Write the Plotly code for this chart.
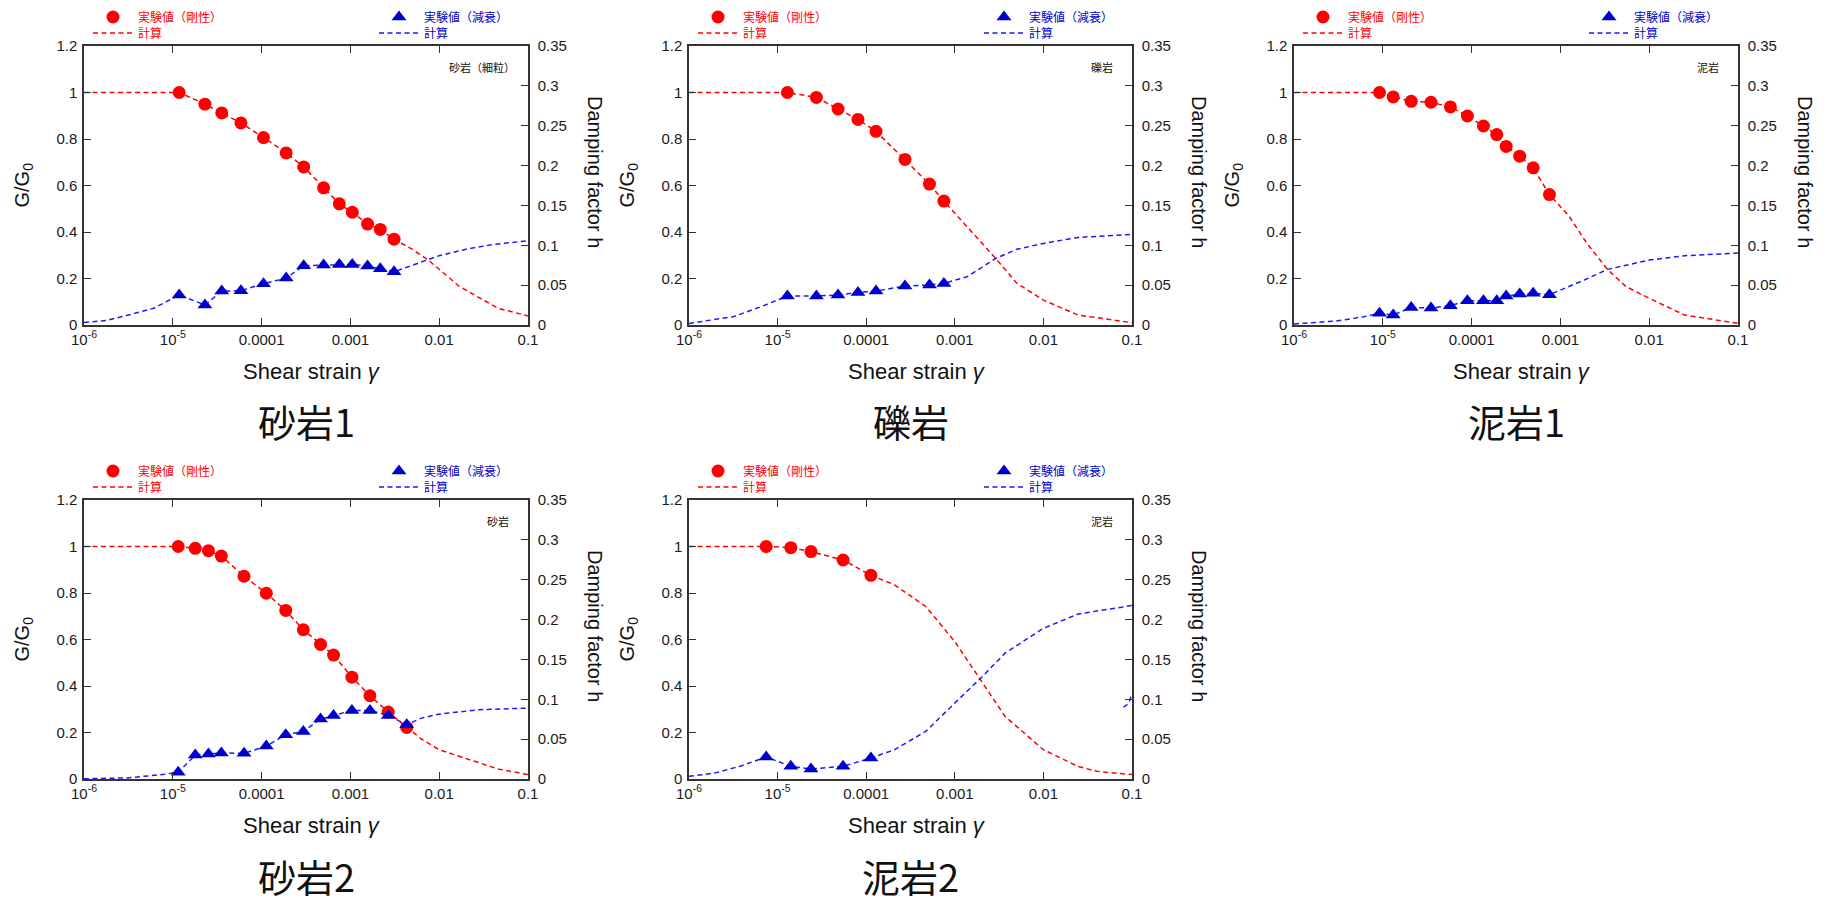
import plotly.graph_objects as go

W, H = 1827, 901
OFF = 8  # the page body margin that the browser adds around the figure

# ---------------- data ----------------
panel_titles = ["砂岩1", "礫岩", "泥岩1", "砂岩2", "泥岩2"]
rock_labels = ["砂岩（細粒）", "礫岩", "泥岩", "砂岩", "泥岩"]

x_tickvals = [1e-6, 1e-5, 1e-4, 1e-3, 1e-2, 1e-1]
x_ticktext = ["10<sup>-6</sup>", "10<sup>-5</sup>", "0.0001", "0.001", "0.01", "0.1"]
g_tickvals = [0, 0.2, 0.4, 0.6, 0.8, 1.0, 1.2]
g_ticktext = ["0", "0.2", "0.4", "0.6", "0.8", "1", "1.2"]
h_tickvals = [0, 0.05, 0.1, 0.15, 0.2, 0.25, 0.3, 0.35]
h_ticktext = ["0", "0.05", "0.1", "0.15", "0.2", "0.25", "0.3", "0.35"]

# 砂岩1
strain_1 = [1.18e-5, 2.3e-5, 3.56e-5, 5.85e-5, 1.05e-4, 1.89e-4, 2.98e-4, 4.99e-4, 7.5e-4, 1.05e-3, 1.56e-3, 2.17e-3, 3.1e-3]
G_1 = [1.0, 0.95, 0.912, 0.869, 0.806, 0.74, 0.68, 0.59, 0.521, 0.485, 0.434, 0.411, 0.369]
h_1 = [0.0376, 0.0251, 0.0426, 0.043, 0.0518, 0.0589, 0.0743, 0.0752, 0.076, 0.076, 0.0739, 0.0706, 0.0668]
calcG_head_x_1 = [1e-6]
calcG_head_1 = [1.0]
calcG_tail_x_1 = [5e-3, 7.4e-3, 0.017, 0.046, 0.1]
calcG_tail_1 = [0.325, 0.282, 0.165, 0.072, 0.039]
calch_head_x_1 = [1e-6, 1.85e-6, 3.16e-6, 6.1e-6]
calch_head_1 = [0.003, 0.006, 0.0125, 0.021]
calch_tail_x_1 = [5e-3, 7.4e-3, 0.01, 0.02, 0.04, 0.1]
calch_tail_1 = [0.075, 0.082, 0.087, 0.095, 0.101, 0.1057]

# 礫岩
strain_2 = [1.29e-5, 2.74e-5, 4.81e-5, 8.07e-5, 1.29e-4, 2.74e-4, 5.18e-4, 7.53e-4]
G_2 = [1.0, 0.979, 0.929, 0.884, 0.833, 0.712, 0.606, 0.533]
h_2 = [0.0363, 0.0363, 0.0376, 0.0409, 0.0426, 0.0489, 0.0501, 0.0522]
calcG_head_x_2 = [1e-6]
calcG_head_2 = [1.0]
calcG_tail_x_2 = [1.38e-3, 2.9e-3, 5e-3, 0.01, 0.0245, 0.1]
calcG_tail_2 = [0.422, 0.286, 0.18, 0.107, 0.043, 0.01]
calch_head_x_2 = [1e-6, 3.16e-6, 6.5e-6]
calch_head_2 = [0.002, 0.0104, 0.023]
calch_tail_x_2 = [1.38e-3, 2.9e-3, 5e-3, 0.01, 0.0245, 0.1]
calch_tail_2 = [0.0606, 0.0835, 0.095, 0.1023, 0.1099, 0.1136]

# 泥岩1
strain_3 = [9.18e-6, 1.31e-5, 2.09e-5, 3.49e-5, 5.77e-5, 8.97e-5, 1.36e-4, 1.92e-4, 2.45e-4, 3.48e-4, 4.94e-4, 7.53e-4]
G_3 = [1.0, 0.981, 0.962, 0.958, 0.938, 0.899, 0.856, 0.819, 0.768, 0.726, 0.676, 0.561]
h_3 = [0.0146, 0.0125, 0.0221, 0.0213, 0.0242, 0.0305, 0.0305, 0.0305, 0.0363, 0.0388, 0.0397, 0.038]
calcG_head_x_3 = [1e-6]
calcG_head_3 = [1.0]
calcG_tail_x_3 = [1.24e-3, 2e-3, 3.39e-3, 5.5e-3, 0.01, 0.025, 0.1]
calcG_tail_3 = [0.47, 0.35, 0.239, 0.165, 0.115, 0.043, 0.007]
calch_head_x_3 = [1e-6, 3e-6, 6.1e-6]
calch_head_3 = [0.0013, 0.005, 0.0104]
calch_tail_x_3 = [2e-3, 3.39e-3, 0.01, 0.025, 0.1]
calch_tail_3 = [0.058, 0.0698, 0.0814, 0.0869, 0.0902]

# 砂岩2
strain_4 = [1.15e-5, 1.79e-5, 2.52e-5, 3.52e-5, 6.34e-5, 1.13e-4, 1.87e-4, 2.95e-4, 4.61e-4, 6.46e-4, 1.04e-3, 1.66e-3, 2.67e-3, 4.31e-3]
G_4 = [1.0, 0.992, 0.982, 0.959, 0.872, 0.799, 0.725, 0.642, 0.579, 0.533, 0.438, 0.358, 0.288, 0.222]
h_4 = [0.0084, 0.0301, 0.0313, 0.0326, 0.0322, 0.0413, 0.0556, 0.0597, 0.0752, 0.0798, 0.086, 0.086, 0.0798, 0.0681]
calcG_head_x_4 = [1e-6]
calcG_head_4 = [1.0]
calcG_tail_x_4 = [6.3e-3, 0.01, 0.028, 0.046, 0.1]
calcG_tail_4 = [0.172, 0.126, 0.069, 0.043, 0.019]
calch_head_x_4 = [1e-6, 3e-6, 7.4e-6]
calch_head_4 = [0.0003, 0.0013, 0.0054]
calch_tail_x_4 = [6.3e-3, 0.01, 0.028, 0.1]
calch_tail_4 = [0.0764, 0.0814, 0.0869, 0.089]

# 泥岩2
strain_5 = [7.43e-6, 1.41e-5, 2.38e-5, 5.48e-5, 1.13e-4]
G_5 = [1.0, 0.995, 0.978, 0.942, 0.876]
h_5 = [0.0276, 0.0159, 0.0125, 0.0159, 0.0263]
calcG_head_x_5 = [1e-6]
calcG_head_5 = [1.0]
calcG_tail_x_5 = [2.09e-4, 4.7e-4, 1e-3, 2.05e-3, 3.7e-3, 0.01, 0.0247, 0.04, 0.1]
calcG_tail_5 = [0.835, 0.742, 0.591, 0.412, 0.269, 0.126, 0.054, 0.033, 0.019]
calch_head_x_5 = [1e-6, 1.96e-6, 3.94e-6]
calch_head_5 = [0.0033, 0.0075, 0.0167]
calch_tail_x_5 = [2.09e-4, 4.7e-4, 1e-3, 2.05e-3, 3.7e-3, 0.01, 0.0247, 0.1]
calch_tail_5 = [0.0368, 0.0597, 0.0952, 0.1286, 0.158, 0.189, 0.207, 0.2176]
# small stray dashed piece at the right edge of 泥岩2
stray_x_5 = [0.08, 0.092, 0.1]
stray_h_5 = [0.09, 0.095, 0.107]

panels = [
    (strain_1, G_1, h_1, calcG_head_x_1, calcG_head_1, calcG_tail_x_1, calcG_tail_1,
     calch_head_x_1, calch_head_1, calch_tail_x_1, calch_tail_1),
    (strain_2, G_2, h_2, calcG_head_x_2, calcG_head_2, calcG_tail_x_2, calcG_tail_2,
     calch_head_x_2, calch_head_2, calch_tail_x_2, calch_tail_2),
    (strain_3, G_3, h_3, calcG_head_x_3, calcG_head_3, calcG_tail_x_3, calcG_tail_3,
     calch_head_x_3, calch_head_3, calch_tail_x_3, calch_tail_3),
    (strain_4, G_4, h_4, calcG_head_x_4, calcG_head_4, calcG_tail_x_4, calcG_tail_4,
     calch_head_x_4, calch_head_4, calch_tail_x_4, calch_tail_4),
    (strain_5, G_5, h_5, calcG_head_x_5, calcG_head_5, calcG_tail_x_5, calcG_tail_5,
     calch_head_x_5, calch_head_5, calch_tail_x_5, calch_tail_5),
]

# ---------------- layout geometry (page pixels) ----------------
plot_left = [84, 689, 1294, 84, 689]
plot_right = [528, 1132, 1738, 528, 1132]
plot_top = [46, 46, 46, 500, 500]
plot_bottom = [325, 325, 325, 779, 779]

RED = "#ff0000"
BLUE_M = "#0000cc"
BLUE_L = "#1a1aff"
FONT_NUM = "Liberation Sans, Arial, sans-serif"
FONT_JP = "Noto Sans CJK JP, sans-serif"
DASH = "5px,3.5px"


def px(x):
    return (x - OFF) / W


def py(y):
    return 1 - (y - OFF) / H


def key(prefix, n):
    return prefix if n == 1 else f"{prefix}{n}"


fig = go.Figure()
layout = dict(
    template="none",
    width=W, height=H, margin=dict(l=0, r=0, t=0, b=0, pad=0, autoexpand=False),
    paper_bgcolor="white", plot_bgcolor="white", showlegend=True,
)
annotations = []

axis_common = dict(
    showline=True, linecolor="#333333", linewidth=1.5,
    ticks="inside", ticklen=7, tickwidth=1, tickcolor="#333333",
    showgrid=False, zeroline=False, automargin=False,
    tickfont=dict(family=FONT_NUM, size=15, color="#1a1a1a"),
)

leg_n = 0
for i, (s, g, h, gx0, gy0, gx1, gy1, hx0, hy0, hx1, hy1) in enumerate(panels):
    n = i + 1
    xn = n
    yl = 2 * n - 1
    yr = 2 * n
    xref = key("x", xn)
    ylref = key("y", yl)
    yrref = key("y", yr)
    L, R, T, B = plot_left[i], plot_right[i], plot_top[i], plot_bottom[i]

    layout[key("xaxis", xn)] = dict(
        type="log", range=[-6, -1], domain=[px(L), px(R)], anchor=ylref,
        tickvals=x_tickvals, ticktext=x_ticktext, mirror="ticks",
        **axis_common,
    )
    layout[key("yaxis", yl)] = dict(
        range=[0, 1.2], domain=[py(B), py(T)], anchor=xref,
        tickvals=g_tickvals, ticktext=g_ticktext, ticklabelstandoff=2,
        **axis_common,
    )
    layout[key("yaxis", yr)] = dict(
        range=[0, 0.35], domain=[py(B), py(T)], anchor=xref, overlaying=ylref,
        side="right", tickvals=h_tickvals, ticktext=h_ticktext, ticklabelstandoff=5,
        **axis_common,
    )

    # legends (one per entry so that placement matches)
    leg_keys = []
    for j in range(4):
        leg_n += 1
        leg_keys.append(key("legend", leg_n))
    red_text_x = L + 54
    blue_text_x = L + 340
    leg_specs = [
        (red_text_x, T - 29, RED),
        (red_text_x, T - 13, RED),
        (blue_text_x, T - 29, BLUE_M),
        (blue_text_x, T - 13, BLUE_M),
    ]
    for lk, (tx, ty, col) in zip(leg_keys, leg_specs):
        layout[lk] = dict(
            x=px(tx - 50), y=py(ty), xanchor="left", yanchor="middle",
            bgcolor="rgba(0,0,0,0)", borderwidth=0, itemwidth=40,
            font=dict(family=FONT_JP, size=12, color=col),
        )

    fig.add_trace(go.Scatter(
        x=gx0 + s + gx1, y=gy0 + g + gy1, mode="lines", name="計算",
        line=dict(color=RED, width=1.5, dash=DASH),
        xaxis=xref, yaxis=ylref, legend=leg_keys[1], hoverinfo="skip",
    ))
    fig.add_trace(go.Scatter(
        x=s, y=g, mode="markers", name="実験値（剛性）",
        marker=dict(symbol="circle", size=13, color=RED),
        xaxis=xref, yaxis=ylref, legend=leg_keys[0],
    ))
    fig.add_trace(go.Scatter(
        x=hx0 + s + hx1, y=hy0 + h + hy1, mode="lines", name="計算",
        line=dict(color=BLUE_L, width=1.5, dash=DASH),
        xaxis=xref, yaxis=yrref, legend=leg_keys[3], hoverinfo="skip",
    ))
    fig.add_trace(go.Scatter(
        x=s, y=h, mode="markers", name="実験値（減衰）",
        marker=dict(symbol="triangle-up", size=13, color=BLUE_M),
        xaxis=xref, yaxis=yrref, legend=leg_keys[2],
    ))
    if n == 5:
        fig.add_trace(go.Scatter(
            x=stray_x_5, y=stray_h_5, mode="lines", showlegend=False,
            line=dict(color=BLUE_L, width=1.5, dash=DASH),
            xaxis=xref, yaxis=yrref, cliponaxis=False, hoverinfo="skip",
        ))

    # titles and labels
    annotations.append(dict(
        text="Shear strain <i>γ</i>", x=px((L + R) / 2 + 6), y=py(B + 46),
        xref="paper", yref="paper", showarrow=False, xanchor="center", yanchor="middle",
        font=dict(family=FONT_NUM, size=22, color="#111111"),
    ))
    annotations.append(dict(
        text="G/G<sub>0</sub>", x=px(L - 61), y=py((T + B) / 2),
        xref="paper", yref="paper", showarrow=False, textangle=-90,
        xanchor="center", yanchor="middle",
        font=dict(family=FONT_NUM, size=20, color="#111111"),
    ))
    annotations.append(dict(
        text="Damping factor h", x=px(R + 67), y=py(T + 126),
        xref="paper", yref="paper", showarrow=False, textangle=90,
        xanchor="center", yanchor="middle",
        font=dict(family=FONT_NUM, size=20, color="#111111"),
    ))
    annotations.append(dict(
        text=rock_labels[i], x=px(R - (11 if n == 1 else 17)), y=py(T + 21),
        xref="paper", yref="paper", showarrow=False, xanchor="right", yanchor="middle",
        font=dict(family=FONT_JP, size=11, color="#111111"),
    ))
    annotations.append(dict(
        text=panel_titles[i], x=px((L + R) / 2), y=py(T + 375),
        xref="paper", yref="paper", showarrow=False, xanchor="center", yanchor="middle",
        font=dict(family=FONT_JP, size=38, color="#111111"),
    ))

layout["annotations"] = annotations
fig.update_layout(**layout)
fig.write_html("out.html")
